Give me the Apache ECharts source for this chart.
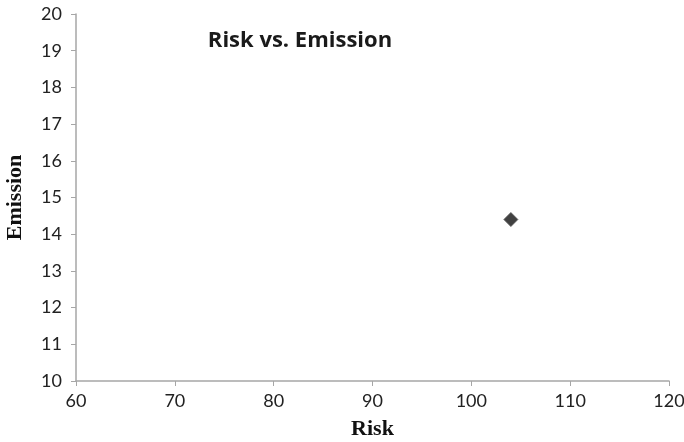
<!DOCTYPE html>
<html><head><meta charset="utf-8">
<script src="https://cdn.jsdelivr.net/npm/echarts@6/dist/echarts.min.js"></script>
<style>html,body{margin:0;padding:0;background:#fff}#c{width:684px;height:442px}</style>
</head><body><div id="c"></div>
<script>
const titleText = "Risk vs. Emission";
const xName = "Risk";
const yName = "Emission";
const riskValues = [104];
const emissionValues = [14.4];
const xTicks = [60, 70, 80, 90, 100, 110, 120];
const yTicks = [10, 11, 12, 13, 14, 15, 16, 17, 18, 19, 20];

const chart = echarts.init(document.getElementById('c'));
const axisColor = '#a6a6a6';
const labelStyle = {color: '#222', fontFamily: 'Lato', fontSize: 18};
chart.setOption({
  animation: false,
  title: {text: titleText, left: 295, top: 25, textAlign: 'center',
    textStyle: {fontFamily: 'Open Sans', fontWeight: 'bold', fontSize: 22, color: '#1a1a1a'}},
  grid: {left: 76, right: 15, top: 14, bottom: 61, outerBoundsMode: 'none', containLabel: false},
  xAxis: {type: 'value', min: xTicks[0], max: xTicks[xTicks.length-1], interval: 10,
    name: xName, nameLocation: 'middle', nameGap: 37,
    nameTextStyle: {fontFamily: 'Liberation Serif', fontWeight: 'bold', fontSize: 22, color: '#111'},
    axisLine: {lineStyle: {color: axisColor, width: 1.5}},
    axisTick: {show: true, length: 5, lineStyle: {color: axisColor}},
    axisLabel: Object.assign({margin: 11}, labelStyle),
    splitLine: {show: false}},
  yAxis: {type: 'value', min: yTicks[0], max: yTicks[yTicks.length-1], interval: 1,
    name: yName, nameLocation: 'middle', nameGap: 50, nameRotate: 90,
    nameTextStyle: {fontFamily: 'Liberation Serif', fontWeight: 'bold', fontSize: 22, color: '#111'},
    axisLine: {show: true, lineStyle: {color: axisColor, width: 1.5}},
    axisTick: {show: true, length: 5, lineStyle: {color: axisColor}},
    axisLabel: Object.assign({margin: 14}, labelStyle),
    splitLine: {show: false}},
  series: [{type: 'scatter', symbol: 'diamond', symbolSize: 14,
    data: riskValues.map((x, i) => [x, emissionValues[i]]),
    itemStyle: {color: '#111', borderColor: '#555', borderWidth: 1}}]
});
</script></body></html>
